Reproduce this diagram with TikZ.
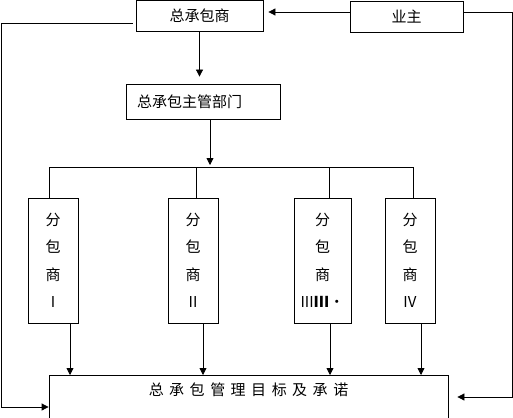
\documentclass[tikz,border=0pt]{standalone}
\usepackage{fontspec}
\setmainfont{Noto Sans CJK SC}
\usepackage{tikz}
\usetikzlibrary{arrows.meta,calc}
\tikzset{
  box/.style={draw,line width=0.8pt,inner sep=0pt,font=\fontsize{15}{18}\selectfont},
  subbox/.style={box,minimum height=125pt,align=center,font=\fontsize{15}{27.5}\selectfont},
  link/.style={line width=0.8pt},
  linkarrow/.style={->,>={Triangle[length=7pt,width=7pt]},line width=0.8pt}
}
\newcommand{\gap}{\hspace{5.5pt}}
\begin{document}
\begin{tikzpicture}[x=1pt,y=-1pt]
\clip (0,0) rectangle (513,417);
\node[box,minimum width=127pt,minimum height=31pt] (zcb) at (199.5,16) {总承包商};
\node[box,minimum width=113pt,minimum height=31pt] (yz) at (406.5,16.5) {业主};
\node[box,minimum height=35pt,text width=132pt,inner xsep=11pt,align=left] (zgbm) at (203,101.5) {总承包主管部门};
\node[subbox,minimum width=50pt] (fb1) at (53,260.5) {分\\包\\商\\I};
\node[subbox,minimum width=50pt] (fb2) at (193,260.5) {分\\包\\商\\II};
\node[subbox,minimum width=57pt] (fb3) at (322.5,260.5) {分\\包\\商\\III\textbf{III}·};
\node[subbox,minimum width=50pt] (fb4) at (410,260.5) {分\\包\\商\\IV};
\node[box,anchor=north,minimum width=399pt,inner ysep=3pt,text height=17pt,text depth=40pt] (zmb) at (248.5,375) {总\gap 承\gap 包\gap 管\gap 理\gap 目\gap 标\gap 及\gap 承\gap 诺};
% bus to the subcontractors
\coordinate (bus) at (210,167);
\coordinate (d1) at (49,167);
\coordinate (d2) at (196,167);
\coordinate (d3) at (329,167);
\coordinate (d4) at (413,167);
\draw[linkarrow,shorten >=7pt] (zcb.south) -- (zcb.south |- zgbm.north);
\draw[linkarrow,shorten >=2pt] (bus |- zgbm.south) -- (bus);
\draw[link] (d1) -- (d4);
\foreach \i in {1,...,4}
  \draw[link] (d\i) -- (d\i |- fb\i.north);
\draw[linkarrow] ([xshift=17pt]fb1.south) -- ([xshift=17pt]fb1.south |- zmb.north);
\draw[linkarrow] ([xshift=10pt]fb2.south) -- ([xshift=10pt]fb2.south |- zmb.north);
\draw[linkarrow] ([xshift=7.5pt]fb3.south) -- ([xshift=7.5pt]fb3.south |- zmb.north);
\draw[linkarrow] ([xshift=11pt]fb4.south) -- ([xshift=11pt]fb4.south |- zmb.north);
% owner and loops
\coordinate (l1) at (1,23);
\coordinate (l2) at (1,407);
\coordinate (r1) at (512,12);
\coordinate (r2) at (512,397);
\draw[linkarrow,shorten >=5pt] (yz.west |- r1) -- (r1 -| zcb.east);
\draw[linkarrow,shorten >=9pt] (yz.east |- r1) -- (r1) -- (r2) -- (r2 -| zmb.east);
\draw[linkarrow,shorten <=3pt] (l1 -| zcb.west) -- (l1) -- (l2) -- (l2 -| zmb.west);
\end{tikzpicture}
\end{document}
